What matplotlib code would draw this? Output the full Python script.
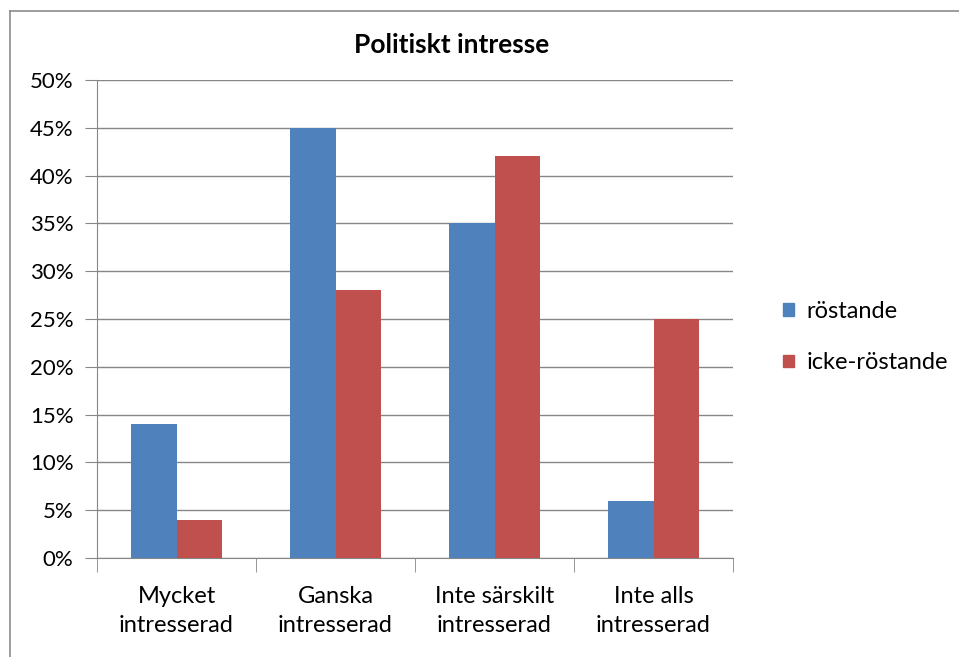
import matplotlib
matplotlib.use("Agg")
import matplotlib.pyplot as plt
import numpy as np
from matplotlib.lines import Line2D
from matplotlib.patches import Patch

categories = ["Mycket\nintresserad", "Ganska\nintresserad", "Inte särskilt\nintresserad", "Inte alls\nintresserad"]
rostande = [14, 45, 35, 6]
icke_rostande = [4, 28, 42, 25]
series_names = ["röstande", "icke-röstande"]
yticks = [0, 5, 10, 15, 20, 25, 30, 35, 40, 45, 50]

plt.rcParams["font.family"] = ["Lato", "DejaVu Sans"]

fig = plt.figure(figsize=(9.59, 6.57), dpi=100)
ax = fig.add_axes([97 / 959, 1 - 558 / 657, (733 - 97) / 959, (558 - 80) / 657])

blue = "#4F81BD"
red = "#C0504D"
grid_col = "#868686"

x = np.arange(len(categories))
w = 1 / 3.5
ax.bar(x - w / 2, rostande, width=w, color=blue, zorder=3)
ax.bar(x + w / 2, icke_rostande, width=w, color=red, zorder=3)

ax.set_xlim(-0.5, len(categories) - 0.5)
ax.set_ylim(0, 50)
ax.set_yticks(yticks)
ax.set_yticklabels([f"{v}%" for v in yticks], fontsize=16)
ax.yaxis.grid(True, color=grid_col, linewidth=1.0, zorder=0)
ax.tick_params(axis="y", length=9, color=grid_col, pad=8)

# category labels centered, divider ticks at boundaries
ax.set_xticks(x)
ax.set_xticklabels(categories, fontsize=17, linespacing=1.5)
ax.tick_params(axis="x", length=0, pad=20)
ax.set_xticks(np.arange(-0.5, len(categories)), minor=True)
ax.tick_params(axis="x", which="minor", length=10, color=grid_col)

for side in ["top", "right"]:
    ax.spines[side].set_visible(False)
for side in ["left", "bottom"]:
    ax.spines[side].set_color(grid_col)

fig.text(452 / 959, 1 - 45 / 657, "Politiskt intresse", fontsize=19, fontweight="bold",
         ha="center", va="center")

handles = [Patch(color=blue), Patch(color=red)]
fig.legend(handles, series_names, loc="center left", bbox_to_anchor=(762 / 959, 1 - 337 / 657),
           frameon=False, fontsize=17, handlelength=0.45, handleheight=0.45,
           handletextpad=0.55, labelspacing=1.3)

# outer chart border (left and top visible)
fig.add_artist(Line2D([10 / 959, 10 / 959], [0, 1 - 11 / 657], color="#8c8c8c", linewidth=1.2,
                      transform=fig.transFigure))
fig.add_artist(Line2D([10 / 959, 1], [1 - 11 / 657, 1 - 11 / 657], color="#8c8c8c", linewidth=1.2,
                      transform=fig.transFigure))

fig.savefig("out.png", dpi=100)
